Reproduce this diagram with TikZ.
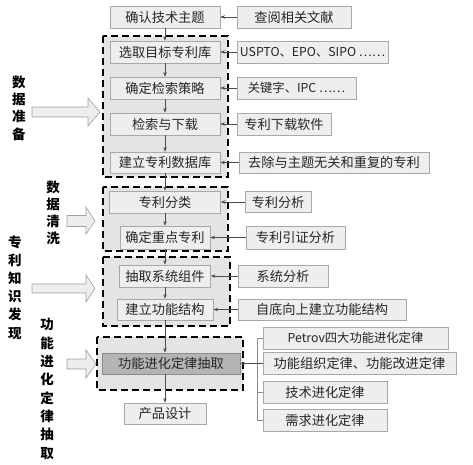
\documentclass[tikz,border=0pt]{standalone}
\usepackage{fontspec}
\setmainfont{Noto Sans CJK SC}
\usetikzlibrary{arrows.meta}
\definecolor{boxfill}{HTML}{EEEEEE}
\definecolor{boxline}{HTML}{A8A8A8}
\definecolor{groupfill}{HTML}{E4E4E4}
\definecolor{darkfill}{HTML}{B4B4B4}
\definecolor{bigfill}{HTML}{EDEDED}
\definecolor{bigline}{HTML}{A0A0A0}
\begin{document}
\begin{tikzpicture}[x=1pt,y=-1pt,
  box/.style={draw=boxline, fill=boxfill, line width=0.8pt, minimum height=22pt,
    inner sep=0pt, font=\fontsize{13.2}{15}\selectfont, text=black!85},
  latinbox/.style={box, font=\fontsize{12.3}{14}\selectfont},
  darkbox/.style={box, fill=darkfill, draw=black!45},
  group/.style={draw=black, fill=groupfill, line width=1.3pt, dash pattern=on 7pt off 4pt},
  conn/.style={draw=black!70, line width=0.6pt, -{Stealth[length=4.5pt,width=3.5pt]}},
  thin/.style={draw=black!45, line width=0.6pt},
  bigarrow/.style={draw=bigline, fill=bigfill, line width=0.6pt},
  lab/.style={align=center, inner sep=0pt, text=black, font=\bfseries\fontsize{13.5}{#1}\selectfont}
]
\useasboundingbox (0,0) rectangle (473,464);

% groups
\path[group] (103,36) rectangle (228,177);
\path[group] (103,187) rectangle (228,251);
\path[group] (103,257) rectangle (230,326);
\path[group] (97,337) rectangle (243,390);

% main column
\node[box, minimum width=110pt] (t1) at (165,17) {确认技术主题};
\node[box, minimum width=110pt] (t2) at (165,52) {选取目标专利库};
\node[box, minimum width=110pt] (t3) at (165,88) {确定检索策略};
\node[box, minimum width=110pt] (t4) at (165,124) {检索与下载};
\node[box, minimum width=110pt, minimum height=21pt] (t5) at (165,162.5) {建立专利数据库};
\node[box, minimum width=111pt] (t6) at (165,202) {专利分类};
\node[box, minimum width=90pt, minimum height=23pt] (t7) at (165,237.5) {确定重点专利};
\node[box, minimum width=91pt] (t8) at (165,276) {抽取系统组件};
\node[box, minimum width=96pt, minimum height=21pt] (t9) at (165,309.5) {建立功能结构};
\node[darkbox, minimum width=138pt, minimum height=21pt] (t10) at (171,363.5) {功能进化定律抽取};
\node[box, minimum width=82pt, minimum height=21pt] (t11) at (165,413.5) {产品设计};

% right column
\node[box, minimum width=114pt] (r1) at (294,17) {查阅相关文献};
\node[latinbox, minimum width=151pt] (r2) at (312.5,52) {USPTO、EPO、SIPO ……};
\node[latinbox, minimum width=119pt] (r3) at (296.5,88) {关键字、IPC ……};
\node[box, minimum width=94pt] (r4) at (284,124) {专利下载软件};
\node[box, minimum width=190pt, minimum height=21pt] (r5) at (334,162.5) {去除与主题无关和重复的专利};
\node[box, minimum width=66pt, minimum height=21pt] (r6) at (278,202) {专利分析};
\node[box, minimum width=99pt, minimum height=23pt] (r7) at (295.5,237.5) {专利引证分析};
\node[box, minimum width=90pt] (r8) at (283,276) {系统分析};
\node[box, minimum width=168pt, minimum height=21pt] (r9) at (322,309.5) {自底向上建立功能结构};

\node[latinbox, minimum width=185pt] (p1) at (355.5,338) {Petrov四大功能进化定律};
\node[box, minimum width=193pt] (p2) at (359.5,363.5) {功能组织定律、功能改进定律};
\node[box, minimum width=124pt] (p3) at (325,392) {技术进化定律};
\node[box, minimum width=124pt] (p4) at (325,420) {需求进化定律};

% vertical flow
\draw[conn] (t1) -- (t2);
\draw[conn] (t2) -- (t3);
\draw[conn] (t3) -- (t4);
\draw[conn] (t4) -- (t5);
\draw[conn] (t5) -- (t6);
\draw[conn] (t6) -- (t7);
\draw[conn] (t7) -- (t8);
\draw[conn] (t8) -- (t9);
\draw[conn] (t9.south) -- (t9.south |- t10.north);
\draw[conn] (t11.north |- t10.south) -- (t11.north);

% side inputs
\draw[conn] (r1) -- (t1);
\draw[conn] (r2) -- (t2);
\draw[conn] (r3) -- (t3);
\draw[conn] (r4) -- (t4);
\draw[conn] (r5) -- (t5);
\draw[conn] (r6) -- (t6);
\draw[conn] (r7) -- (t7);
\draw[conn] (r8) -- (t8);
\draw[conn] (r9) -- (t9);

% bracket of laws
\coordinate (bk) at (257,338);
\draw[thin] (p1.west) -- (bk) -- (bk |- p4.west) -- (p4.west);
\draw[thin] (bk |- p3.west) -- (p3.west);
\draw[conn] (p2.west) -- (t10.east);

% big arrows
\draw[bigarrow] (32,107) -- (88,107) -- (88,98) -- (100,112) -- (88,126) -- (88,117) -- (32,117) -- cycle;
\draw[bigarrow] (67,215.5) -- (86,215.5) -- (86,207) -- (95,221) -- (86,234) -- (86,226.5) -- (67,226.5) -- cycle;
\draw[bigarrow] (32,284) -- (86,284) -- (86,275) -- (95,288.5) -- (86,302) -- (86,293) -- (32,293) -- cycle;
\draw[bigarrow] (67,359) -- (86,359) -- (86,350) -- (96,364) -- (86,378) -- (86,369) -- (67,369) -- cycle;

% stage labels
\node[lab=17.3] (L1) at (19,108) {数\\据\\准\\备};
\node[lab=17] (L2) at (53,212.5) {数\\据\\清\\洗};
\node[lab=18.2] (L3) at (15,287.5) {专\\利\\知\\识\\发\\现};
\node[lab=18.3] (L4) at (47,389) {功\\能\\进\\化\\定\\律\\抽\\取};
\end{tikzpicture}
\end{document}
